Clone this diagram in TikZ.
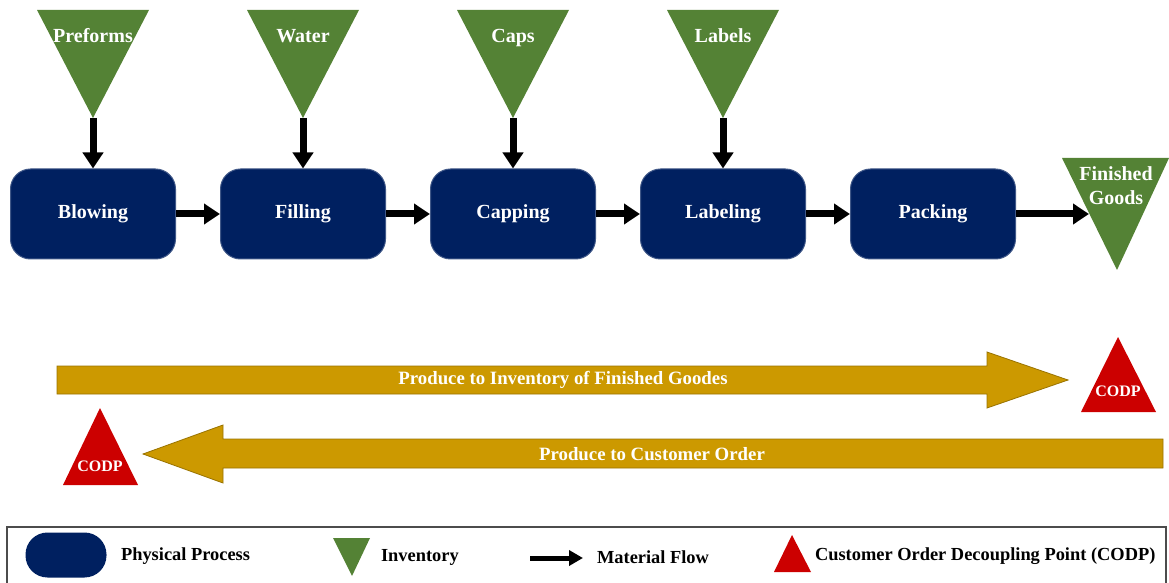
\documentclass[tikz,border=0pt]{standalone}
\usepackage{fontspec}
\setmainfont{Liberation Serif}
\usetikzlibrary{arrows.meta, positioning}

\definecolor{procblue}{HTML}{002060}
\definecolor{invgreen}{HTML}{548235}
\definecolor{codpred}{HTML}{CC0000}
\definecolor{flowgold}{HTML}{CC9900}

\tikzset{
  proc/.style={draw=procblue!75!white, line width=0.5pt, fill=procblue, rounded corners=10pt,
    minimum width=82.5pt, minimum height=45pt, text=white, font=\fontsize{10}{12}\selectfont\bfseries},
  lbl/.style={text=white, font=\fontsize{10}{12}\selectfont\bfseries, align=center},
  bandlbl/.style={text=white, font=\fontsize{9.4}{11}\selectfont\bfseries},
  codplbl/.style={text=white, font=\fontsize{8}{10}\selectfont\bfseries},
  legtxt/.style={text=black, font=\fontsize{9.2}{11}\selectfont\bfseries, anchor=west},
  flow/.style={-{Triangle[width=10pt,length=8pt]}, line width=3.5pt},
  legflow/.style={-{Triangle[width=7.5pt,length=7pt]}, line width=2.5pt},
  inv/.style={fill=invgreen},
  codp/.style={fill=codpred},
  band/.style={fill=flowgold, draw=flowgold!75!black, line width=0.4pt}
}

\begin{document}
\begin{tikzpicture}[x=0.5pt, y=-0.5pt, on grid]
  \useasboundingbox (0,0) rectangle (1169,583);

  % processes
  \node[proc] (blowing) at (93,214) {Blowing};
  \node[proc, right=105pt of blowing] (filling) {Filling};
  \node[proc, right=105pt of filling] (capping) {Capping};
  \node[proc, right=105pt of capping] (labeling) {Labeling};
  \node[proc, right=105pt of labeling] (packing) {Packing};

  % inventories
  \fill[inv] (37,10) -- (149,10) -- (93,118) -- cycle;
  \node[lbl, anchor=base] (preforms) at (93,43) {Preforms};
  \coordinate (preforms-tip) at (93,118);

  \fill[inv] (247,10) -- (359,10) -- (303,118) -- cycle;
  \node[lbl, anchor=base] (water) at (303,43) {Water};
  \coordinate (water-tip) at (303,118);

  \fill[inv] (457,10) -- (569,10) -- (513,118) -- cycle;
  \node[lbl, anchor=base] (caps) at (513,43) {Caps};
  \coordinate (caps-tip) at (513,118);

  \fill[inv] (667,10) -- (779,10) -- (723,118) -- cycle;
  \node[lbl, anchor=base] (labels) at (723,43) {Labels};
  \coordinate (labels-tip) at (723,118);

  \fill[inv] (1062,158) -- (1169,158) -- (1117,270) -- cycle;
  \node[lbl, text depth=0pt] (goods) at (1116,186) {Finished\\Goods};
  \coordinate (goods-in) at (1089,214);

  % material flow
  \draw[flow] (preforms-tip) -- (blowing);
  \draw[flow] (water-tip) -- (filling);
  \draw[flow] (caps-tip) -- (capping);
  \draw[flow] (labels-tip) -- (labeling);
  \draw[flow] (blowing) -- (filling);
  \draw[flow] (filling) -- (capping);
  \draw[flow] (capping) -- (labeling);
  \draw[flow] (labeling) -- (packing);
  \draw[flow] (packing) -- (goods-in);

  % produce to stock / to order
  \draw[band] (57,366) -- (987,366) -- (987,352) -- (1068,380) -- (987,408) -- (987,394) -- (57,394) -- cycle;
  \node[bandlbl] (to-stock) at (563,380) {Produce to Inventory of Finished Goodes};

  \draw[band] (1163,439) -- (223,439) -- (223,425) -- (143,454) -- (223,483) -- (223,468) -- (1163,468) -- cycle;
  \node[bandlbl] (to-order) at (652,454) {Produce to Customer Order};

  % decoupling points
  \fill[codp] (1118,337) -- (1156,412) -- (1081,412) -- cycle;
  \node[codplbl] (codp-stock) at (1118,391) {CODP};
  \fill[codp] (100,408) -- (138,485) -- (63,485) -- cycle;
  \node[codplbl] (codp-order) at (100,466) {CODP};

  % legend
  \draw[line width=0.8pt, draw=black!70] (7,527) rectangle (1166,600);
  \node[fill=procblue, rounded corners=11pt, minimum width=40.5pt, minimum height=22.5pt] (leg-proc) at (66,555) {};
  \node[legtxt] (leg-proc-t) at (114,556) {Physical Process};
  \fill[inv] (333,538) -- (370,538) -- (352,576) -- cycle;
  \node[legtxt] (leg-inv-t) at (374,557) {Inventory};
  \coordinate (leg-a) at (530,558);
  \coordinate (leg-b) at (583,558);
  \draw[legflow] (leg-a) -- (leg-b);
  \node[legtxt] (leg-flow-t) at (590,557) {Material Flow};
  \fill[codp] (792,535) -- (811,572) -- (774,572) -- cycle;
  \node[legtxt] (leg-codp-t) at (808,556) {Customer Order Decoupling Point (CODP)};
\end{tikzpicture}
\end{document}
